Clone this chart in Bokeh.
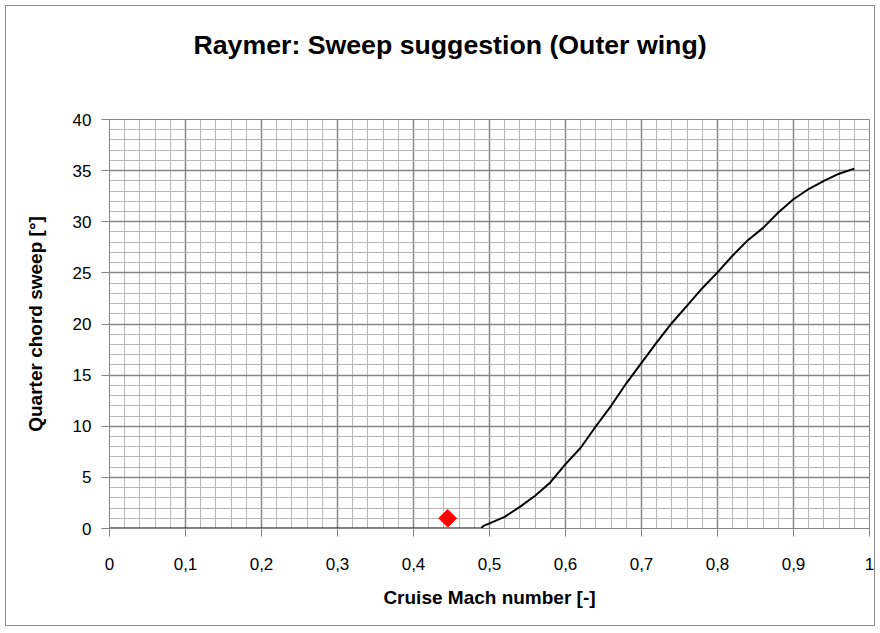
from bokeh.plotting import figure
from bokeh.models import FixedTicker, Title, Range1d, ColumnDataSource
from bokeh.embed import file_html
from bokeh.resources import INLINE

title_text = "Raymer: Sweep suggestion (Outer wing)"
x_label = "Cruise Mach number [-]"
y_label = "Quarter chord sweep [°]"

# Sweep suggestion curve
mach = [0.0, 0.489, 0.492, 0.50, 0.52, 0.54, 0.56, 0.58, 0.60, 0.62, 0.64, 0.66,
        0.68, 0.70, 0.72, 0.74, 0.76, 0.78, 0.80, 0.82, 0.84, 0.86, 0.88, 0.90,
        0.92, 0.94, 0.96, 0.98]
sweep = [0.0, 0.0, 0.25, 0.5, 1.14, 2.12, 3.2, 4.5, 6.3, 7.9, 10.0, 12.0,
         14.2, 16.2, 18.2, 20.1, 21.8, 23.5, 25.05, 26.7, 28.2, 29.4, 30.9, 32.2,
         33.2, 34.0, 34.7, 35.2]

# Design point
design_mach = [0.445]
design_sweep = [1.0]

x_ticks = [0, 0.1, 0.2, 0.3, 0.4, 0.5, 0.6, 0.7, 0.8, 0.9, 1]
x_tick_labels = ["0", "0,1", "0,2", "0,3", "0,4", "0,5", "0,6", "0,7", "0,8", "0,9", "1"]
y_ticks = [0, 5, 10, 15, 20, 25, 30, 35, 40]
y_tick_labels = ["0", "5", "10", "15", "20", "25", "30", "35", "40"]
x_minor = [round(i * 0.02, 2) for i in range(51)]
y_minor = list(range(41))

FONT = "Liberation Sans"
MAJOR = "#868686"
MINOR = "#b8b8b8"

p = figure(width=870, height=621, output_backend="svg", toolbar_location=None,
           x_range=Range1d(0, 1), y_range=Range1d(0, 40),
           min_border_left=103, min_border_right=7, min_border_top=113,
           min_border_bottom=99,
           styles={"border": "1px solid #8a8a8a", "margin-left": "5px",
                   "margin-top": "5px"})
p.outline_line_color = MAJOR
p.outline_line_width = 1

p.xaxis.ticker = FixedTicker(ticks=x_ticks, minor_ticks=x_minor)
p.yaxis.ticker = FixedTicker(ticks=y_ticks, minor_ticks=y_minor)
p.xaxis.major_label_overrides = dict(zip(x_ticks, x_tick_labels))
p.yaxis.major_label_overrides = dict(zip(y_ticks, y_tick_labels))

for ax in (p.xaxis, p.yaxis):
    ax.axis_line_color = MAJOR
    ax.major_tick_line_color = MAJOR
    ax.major_tick_out = 8
    ax.major_tick_in = 0
    ax.minor_tick_out = 0
    ax.minor_tick_in = 0
    ax.major_label_text_font = FONT
    ax.major_label_text_font_size = "17px"
    ax.major_label_text_color = "black"
    ax.axis_label_text_font = FONT
    ax.axis_label_text_font_style = "bold"
    ax.axis_label_text_font_size = "19px"
    ax.axis_label_text_color = "black"

p.xaxis.axis_label = x_label
p.yaxis.axis_label = y_label
p.xaxis.major_label_standoff = 21
p.yaxis.major_label_standoff = 10
p.xaxis.axis_label_standoff = 14
p.yaxis.axis_label_standoff = 24

for g in (p.xgrid, p.ygrid):
    g.grid_line_color = MAJOR
    g.grid_line_width = 1.5
    g.minor_grid_line_color = MINOR
    g.minor_grid_line_width = 1

src = ColumnDataSource(dict(mach=mach, sweep=sweep))
p.line("mach", "sweep", source=src, line_color="black", line_width=2)

p.scatter(design_mach, design_sweep, marker="square", angle=0.7853981634,
          size=12.5, fill_color="#ff0000", line_color="#ff0000")

# spacer between frame and title (blank text)
p.add_layout(Title(text=" ", standoff=40, text_font=FONT,
                   text_font_size="10px"), "above")

p.title.text = title_text
p.title.align = "left"
p.title.offset = 84
p.title.standoff = 13
p.title.text_font = FONT
p.title.text_font_style = "bold"
p.title.text_font_size = "26.7px"
p.title.text_color = "black"

open("out.html", "w").write(file_html(p, INLINE))
